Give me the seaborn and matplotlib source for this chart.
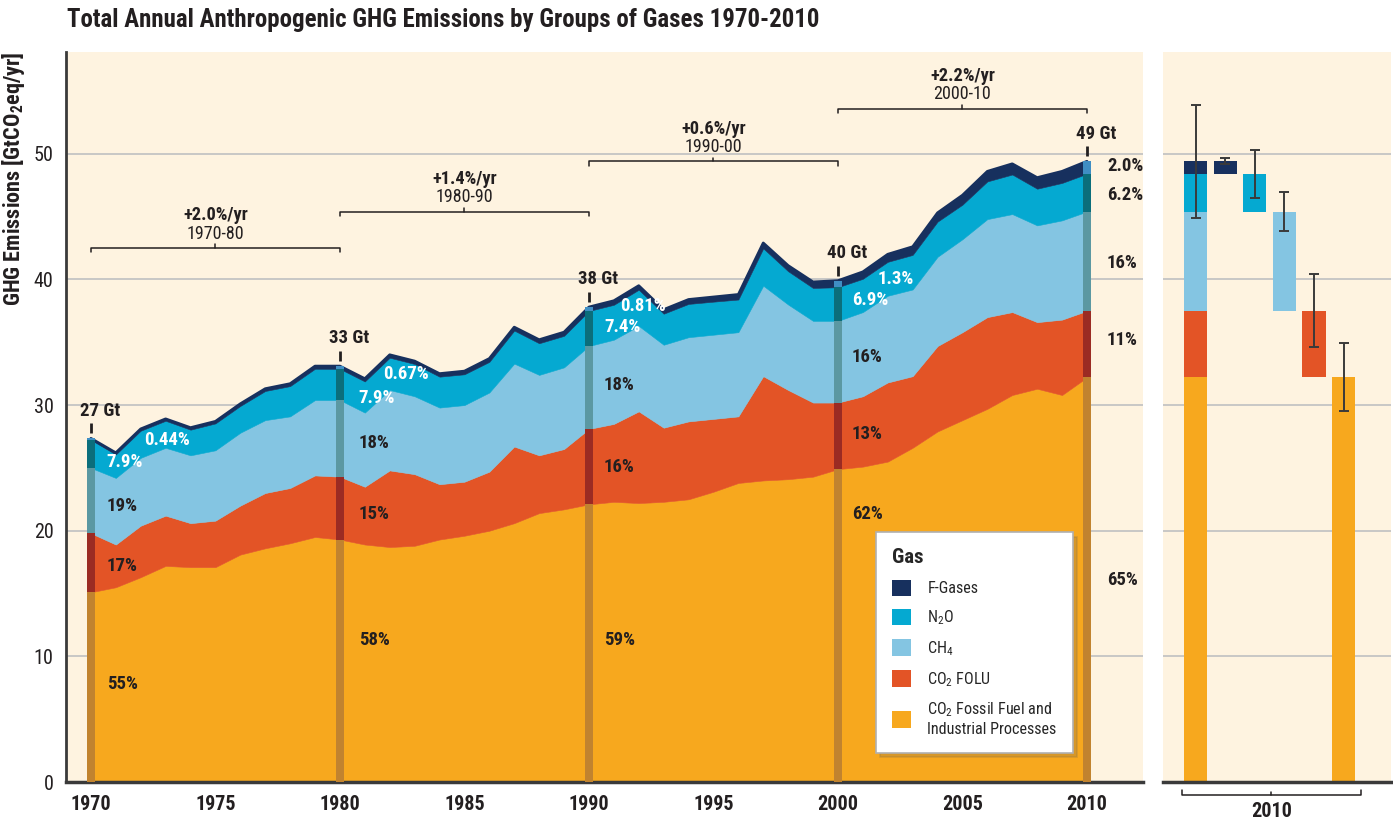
import numpy as np
import pandas as pd
import matplotlib
matplotlib.use('Agg')
import matplotlib.pyplot as plt
import seaborn as sns
from matplotlib import font_manager
from matplotlib.patches import Patch

# ---- data (GtCO2eq/yr) ----
years = list(range(1970, 2011))
co2_ffi = [15.1, 15.5, 16.3, 17.2, 17.1, 17.1, 18.1, 18.6, 19.0, 19.5,
           19.3, 18.9, 18.7, 18.8, 19.3, 19.6, 20.0, 20.6, 21.4, 21.7,
           22.1, 22.3, 22.2, 22.3, 22.5, 23.1, 23.8, 24.0, 24.1, 24.3,
           24.9, 25.1, 25.5, 26.6, 27.9, 28.8, 29.7, 30.8, 31.3, 30.8,
           32.2]
co2_folu = [4.7, 3.4, 4.1, 4.0, 3.5, 3.7, 3.9, 4.4, 4.4, 4.9,
            5.0, 4.6, 6.1, 5.7, 4.4, 4.3, 4.7, 6.1, 4.6, 4.8,
            6.0, 6.2, 7.3, 5.9, 6.2, 5.8, 5.3, 8.3, 7.1, 5.9,
            5.3, 5.6, 6.3, 5.7, 6.8, 7.0, 7.3, 6.6, 5.3, 6.0,
            5.3]
ch4 = [5.2, 5.3, 5.4, 5.4, 5.4, 5.6, 5.8, 5.8, 5.7, 6.0,
       6.1, 5.9, 6.4, 6.2, 6.1, 6.1, 6.3, 6.6, 6.4, 6.5,
       6.6, 6.7, 6.8, 6.6, 6.7, 6.7, 6.7, 7.2, 6.8, 6.5,
       6.5, 6.7, 6.9, 6.9, 7.1, 7.4, 7.8, 7.8, 7.7, 7.9,
       7.9]
n2o = [2.23, 1.87, 2.16, 2.15, 2.04, 2.14, 2.13, 2.32, 2.41, 2.49,
       2.48, 2.48, 2.57, 2.57, 2.46, 2.45, 2.44, 2.63, 2.52, 2.51,
       2.79, 2.78, 2.88, 2.47, 2.65, 2.63, 2.60, 2.97, 2.65, 2.62,
       2.68, 2.65, 2.70, 2.75, 2.80, 2.75, 3.00, 3.15, 2.92, 2.98,
       3.01]
f_gases = [0.12, 0.13, 0.14, 0.15, 0.16, 0.16, 0.17, 0.18, 0.19, 0.21,
           0.22, 0.22, 0.23, 0.23, 0.24, 0.25, 0.26, 0.27, 0.28, 0.29,
           0.31, 0.32, 0.32, 0.33, 0.35, 0.37, 0.40, 0.43, 0.45, 0.48,
           0.52, 0.55, 0.60, 0.65, 0.70, 0.75, 0.80, 0.85, 0.88, 0.92,
           0.99]

decades = [1970, 1980, 1990, 2000, 2010]
decade_totals = ['27 Gt', '33 Gt', '38 Gt', '40 Gt', '49 Gt']
share_ffi = ['55%', '58%', '59%', '62%', '65%']
share_folu = ['17%', '15%', '16%', '13%', '11%']
share_ch4 = ['19%', '18%', '18%', '16%', '16%']
share_n2o = ['7.9%', '7.9%', '7.4%', '6.9%', '6.2%']
share_f = ['0.44%', '0.67%', '0.81%', '1.3%', '2.0%']

growth_rates = ['+2.0%/yr', '+1.4%/yr', '+0.6%/yr', '+2.2%/yr']
growth_periods = ['1970-80', '1980-90', '1990-00', '2000-10']

# 2010 uncertainty ranges (total, F-gases, N2O, CH4, CO2 FOLU, CO2 FFI)
unc_2010 = [4.5, 0.25, 1.9, 1.55, 2.9, 2.7]

df = pd.DataFrame({'year': years, 'ffi': co2_ffi, 'folu': co2_folu,
                   'ch4': ch4, 'n2o': n2o, 'f': f_gases})
df['total'] = df[['ffi', 'folu', 'ch4', 'n2o', 'f']].sum(axis=1)

# ---- style ----
sns.set_style('white')


def pick_font():
    for name in ['Liberation Sans Narrow', 'DejaVu Sans Condensed', 'Roboto Condensed']:
        try:
            font_manager.findfont(font_manager.FontProperties(family=name),
                                  fallback_to_default=False)
            return name, 1.0
        except ValueError:
            pass
    return 'DejaVu Sans', 0.86


font, k = pick_font()
plt.rcParams['font.family'] = [font, 'DejaVu Sans']
plt.rcParams['mathtext.fontset'] = 'custom'
plt.rcParams['mathtext.rm'] = font
plt.rcParams['mathtext.bf'] = font + ':bold'

bg = '#fef3e0'
ink = '#231f20'
cols = ['#f7a81e', '#e35426', '#84c5e2', '#05a9d1', '#17305e']
dark = ['#c1832f', '#9b2b23', '#5b98a2', '#0b6e7b', '#3f8ec4']
grid_c = '#c4c4c4'

fig = plt.figure(figsize=(13.93, 8.22), dpi=100)
ax = fig.add_axes([66 / 1393, 1 - 782 / 822, (1143 - 66) / 1393, 730 / 822])
ax2 = fig.add_axes([1163 / 1393, 1 - 782 / 822, (1391 - 1163) / 1393, 730 / 822])

ymax = 58.1
for a in (ax, ax2):
    a.set_facecolor(bg)
    a.set_ylim(0, ymax)
    for yv in range(10, 60, 10):
        a.axhline(yv, color=grid_c, lw=1.3, zorder=0)

# ---- main stacked area ----
layers = [df['ffi'], df['folu'], df['ch4'], df['n2o'], df['f']]
ax.stackplot(df['year'], *layers, colors=cols, linewidth=0.4,
             edgecolor='face', zorder=2)
sns.lineplot(x='year', y='total', data=df, ax=ax, color=cols[4], lw=2.0,
             legend=False, zorder=3)

# darker decade strips
for d in decades:
    row = df[df['year'] == d].iloc[0]
    bottom = 0
    for key, c in zip(['ffi', 'folu', 'ch4', 'n2o', 'f'], dark):
        ax.bar(d, row[key], bottom=bottom, width=0.34, color=c, lw=0, zorder=4)
        bottom += row[key]

# total labels
for d, lab in zip(decades, decade_totals):
    tot = df.loc[df['year'] == d, 'total'].iloc[0]
    ax.plot([d, d], [tot + 0.4, tot + 1.2], color=ink, lw=2.0, zorder=5,
            solid_capstyle='butt')
    ax.text(d + 0.35, tot + 2.2, lab, ha='center', va='center',
            fontsize=13.5 * k, fontweight='bold', color=ink, zorder=5)

# share labels: y positions per decade (ffi, folu, ch4, n2o, f)
label_y = {1970: [7.8, 17.2, 22.0, 25.5, 27.2],
           1980: [11.3, 21.3, 27.0, 30.6, 32.5],
           1990: [11.3, 25.1, 31.6, 36.2, 37.9],
           2000: [21.3, 27.7, 33.8, 38.4, 40.0],
           2010: [16.1, 35.2, 41.3, 46.7, 49.0]}
label_x = {1970: (1970.64, 1972.15), 1980: (1980.75, 1981.73),
           1990: (1990.6, 1991.24), 2000: (2000.55, 2001.6),
           2010: (2010.8, 2010.8)}
for i, d in enumerate(decades):
    texts = [share_ffi[i], share_folu[i], share_ch4[i], share_n2o[i], share_f[i]]
    for j, t in enumerate(texts):
        white = (j >= 3) and d != 2010
        x = label_x[d][1] if j == 4 else label_x[d][0]
        ax.text(x, label_y[d][j], t, ha='left', va='center',
                fontsize=13.5 * k, fontweight='bold',
                color='white' if white else ink, zorder=6)

# growth brackets
bracket_y = [42.5, 45.4, 49.4, 53.6]
for i, (r, p) in enumerate(zip(growth_rates, growth_periods)):
    x0, x1, yb = decades[i], decades[i + 1], bracket_y[i]
    ax.plot([x0, x0, x1, x1], [yb - 0.35, yb, yb, yb - 0.35], color=ink, lw=1.1,
            zorder=5)
    ax.plot([(x0 + x1) / 2] * 2, [yb, yb + 0.3], color=ink, lw=1.1, zorder=5)
    ax.text((x0 + x1) / 2, yb + 2.6, r, ha='center', va='center',
            fontsize=13.2 * k, fontweight='bold', color=ink)
    ax.text((x0 + x1) / 2, yb + 1.15, p, ha='center', va='center',
            fontsize=13 * k, color=ink)

ax.set_xlim(1969.0, 2012.25)
ax.set_xticks(range(1970, 2011, 5))
ax.set_xticklabels([str(y) for y in range(1970, 2011, 5)], fontweight='bold',
                   fontsize=14.5 * k, color=ink)
ax.set_yticks(range(0, 60, 10))
ax.set_yticklabels([str(v) for v in range(0, 60, 10)], fontsize=14.5 * k, color=ink)
ax.tick_params(axis='x', direction='out', length=5, width=1.2, color=ink, pad=4)
ax.tick_params(axis='y', length=0, pad=9)
ax.set_xlabel('')
ax.set_ylabel(r'GHG Emissions [GtCO$_\mathbf{2}$eq/yr]', fontsize=16 * k,
              fontweight='bold', color=ink, labelpad=5, loc='top')
for s in ['top', 'right']:
    ax.spines[s].set_visible(False)
ax.spines['left'].set_linewidth(2.0)
ax.spines['left'].set_color('#3a3a3a')
ax.spines['bottom'].set_linewidth(2.5)
ax.spines['bottom'].set_color('#3a3a3a')

# legend
names = ['F-Gases', r'N$_2$O', r'CH$_4$', r'CO$_2$ FOLU',
         'CO$_2$ Fossil Fuel and\nIndustrial Processes']
handles = [Patch(facecolor=c, edgecolor='none') for c in cols[::-1]]
leg = ax.legend(handles, names, title='Gas', loc='upper left',
                bbox_to_anchor=(0.752, 0.342), frameon=True, fancybox=False,
                shadow={'ox': 3, 'oy': -3, 'color': '#9a7a40', 'alpha': 0.35},
                framealpha=1.0, fontsize=11.6 * k, title_fontsize=15 * k,
                handlelength=1.2, handleheight=1.2, handletextpad=1.0,
                labelspacing=0.75, borderpad=1.0, alignment='left',
                borderaxespad=0)
leg.get_title().set_fontweight('bold')
leg.get_frame().set_edgecolor('#b0b0b0')
leg.get_frame().set_linewidth(1.2)
leg.get_frame().set_facecolor('white')
leg.set_zorder(10)

# ---- right panel: 2010 breakdown ----
last = df.iloc[-1]
seg = [last['f'], last['n2o'], last['ch4'], last['folu'], last['ffi']]
tops = [last['total'], last['total'] - last['f'],
        last['total'] - last['f'] - last['n2o'],
        last['ffi'] + last['folu'], last['ffi']]
w = 0.78
b = 0
for key, c in zip(['ffi', 'folu', 'ch4', 'n2o', 'f'], cols):
    ax2.bar(0, last[key], bottom=b, width=w, color=c, lw=0, zorder=2)
    b += last[key]
bar_cols = cols[::-1]
for i in range(5):
    ax2.bar(i + 1, seg[i], bottom=tops[i] - seg[i], width=w, color=bar_cols[i],
            lw=0, zorder=2)
err_x = [0] + [i + 1 for i in range(5)]
err_y = [last['total']] + tops
ax2.errorbar(err_x, err_y, yerr=unc_2010, fmt='none', ecolor='#3a3a3a',
             elinewidth=1.4, capsize=3.5, capthick=1.4, zorder=3)
ax2.set_xlim(-1.1, 6.6)
ax2.set_xticks([])
ax2.set_yticks([])
for s in ['top', 'right', 'left']:
    ax2.spines[s].set_visible(False)
ax2.spines['bottom'].set_linewidth(2.5)
ax2.spines['bottom'].set_color('#3a3a3a')
tr = ax2.get_xaxis_transform()
ax2.plot([-0.47, -0.47, 5.59, 5.59], [-0.011, -0.018, -0.018, -0.011],
         transform=tr, color=ink, lw=1.1, clip_on=False)
ax2.plot([2.56, 2.56], [-0.018, -0.014], transform=tr, color=ink, lw=1.1,
         clip_on=False)
ax2.text(2.56, -0.041, '2010', transform=tr, ha='center', va='center',
         fontsize=14.5 * k, fontweight='bold', color=ink)

fig.text(67 / 1393, 1 - 20 / 822,
         'Total Annual Anthropogenic GHG Emissions by Groups of Gases 1970-2010',
         ha='left', va='center', fontsize=17.9 * k, fontweight='bold', color=ink)

fig.savefig('out.png', dpi=100)
